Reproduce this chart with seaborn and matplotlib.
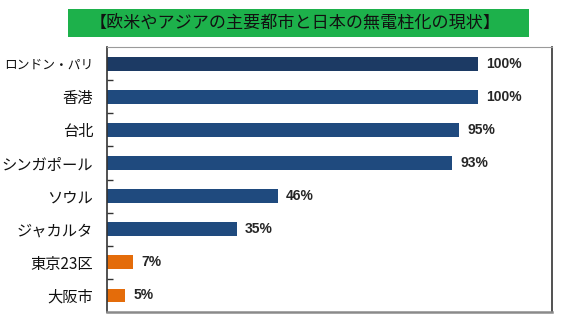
import matplotlib
matplotlib.use("Agg")
import matplotlib.pyplot as plt
from matplotlib.patches import Rectangle
import seaborn as sns
import pandas as pd

cities = ["ロンドン・パリ", "香港", "台北", "シンガポール", "ソウル", "ジャカルタ", "東京23区", "大阪市"]
rates = [100, 100, 95, 93, 46, 35, 7, 5]
bar_colors = ["#1C3A64", "#1F4A7E", "#1F4A7E", "#1F4A7E", "#1F4A7E", "#1F4A7E", "#E46C0A", "#E46C0A"]
title = "【欧米やアジアの主要都市と日本の無電柱化の現状】"

df = pd.DataFrame({"city": cities, "rate": rates})

sns.set_theme(style="white")
plt.rcParams["font.family"] = ["Noto Sans CJK JP", "DejaVu Sans"]

fig = plt.figure(figsize=(5.75, 3.23), dpi=100)
ax = fig.add_axes([0.186, 0.034, 0.774, 0.820])

sns.barplot(data=df, y="city", x="rate", hue="city", palette=bar_colors,
            order=cities, hue_order=cities, width=0.42, legend=False,
            orient="h", ax=ax, edgecolor="none", saturation=1)

ax.set_xlim(0, 120)
ax.set_ylim(len(cities) - 0.5, -0.5)
ax.set_xlabel("")
ax.set_ylabel("")
ax.set_xticks([])

# category labels without tick marks, separators as short inward minor ticks
ax.tick_params(axis="y", which="major", length=0, pad=10, labelsize=11, labelcolor="#111111")
for lab in ax.get_yticklabels():
    # long katakana name is set a bit smaller so it stays inside the figure
    if len(lab.get_text()) > 6:
        lab.set_fontsize(9.2)
ax.set_yticks([i + 0.5 for i in range(len(cities) - 1)], minor=True)
ax.tick_params(axis="y", which="minor", direction="in", length=4, width=1, color="#333333", left=True)

for side, col, lw in [("left", "#333333", 1.2), ("right", "#333333", 1.2),
                      ("top", "#9a9a9a", 0.8), ("bottom", "#8a8a8a", 1.8)]:
    ax.spines[side].set_visible(True)
    ax.spines[side].set_color(col)
    ax.spines[side].set_linewidth(lw)

for i, v in enumerate(rates):
    ax.annotate(f"{v}%", xy=(v, i), xytext=(6, 0), textcoords="offset points",
                ha="left", va="center", fontsize=10, fontweight="bold",
                color="#262626", family=["Liberation Sans", "DejaVu Sans"])

# green title banner
fig.patches.append(Rectangle((0.118, 0.885), 0.802, 0.087, transform=fig.transFigure,
                             facecolor="#1DB14B", edgecolor="none", zorder=0))
fig.text(0.513, 0.929, title, ha="center", va="center", fontsize=12.3, color="#111111")

fig.savefig("out.png", dpi=100)
